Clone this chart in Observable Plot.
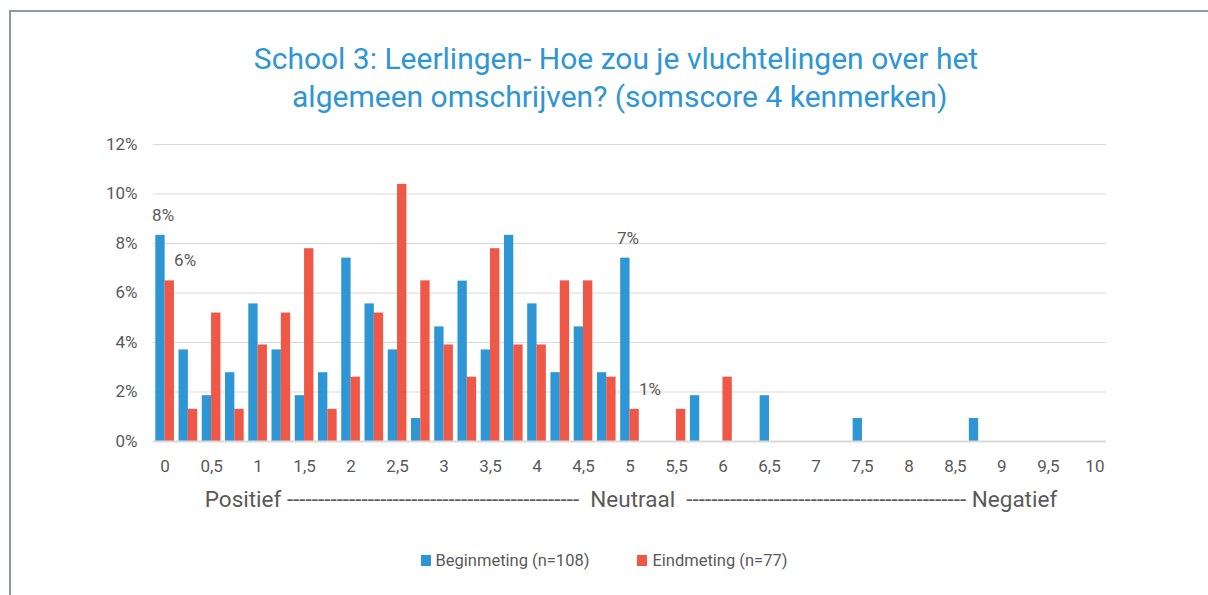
<!DOCTYPE html>
<html>
<head>
<meta charset="utf-8">
<script src="https://cdn.jsdelivr.net/npm/d3@7"></script>
<script src="https://cdn.jsdelivr.net/npm/@observablehq/plot@0.6"></script>
<style>
  html, body { margin: 0; padding: 0; background: #fff; }
  #wrap { position: relative; width: 1208px; height: 595px; overflow: hidden; background: #fff; font-family: Roboto, "Noto Sans", sans-serif; }
  #frame { position: absolute; left: 9px; top: 10px; width: 1400px; height: 800px; border-top: 2px solid #8c9aa8; border-left: 2px solid #8c9aa8; }
  #title { position: absolute; top: 40px; left: 0; width: 1232px; text-align: center; color: #2e96d4; font-size: 30px; line-height: 38px; }
  #chart { position: absolute; top: 130px; left: 0; }
  #axisTitle { position: absolute; top: 486px; left: 0; width: 1262px; text-align: center; color: #595959; font-size: 22.5px; white-space: pre; }
  #legend { position: absolute; top: 551px; left: 0; width: 1208px; display: flex; justify-content: center; gap: 48px; color: #595959; font-size: 16.5px; }
  #legend span.item { display: flex; align-items: center; gap: 5px; }
  #legend span.sw { display: inline-block; width: 10px; height: 11px; }
</style>
</head>
<body>
<div id="wrap">
  <div id="frame"></div>
  <div id="title">School 3: Leerlingen- Hoe zou je vluchtelingen over het<br>&nbsp;algemeen omschrijven? (somscore 4 kenmerken)</div>
  <div id="chart"></div>
  <div id="axisTitle">Positief -----------------------------------------------  Neutraal  --------------------------------------------- Negatief</div>
  <div id="legend"></div>
</div>
<script>
// Somscore categories (x)
const categories = [0, 0.25, 0.5, 0.75, 1, 1.25, 1.5, 1.75, 2, 2.25, 2.5, 2.75, 3, 3.25, 3.5, 3.75, 4, 4.25, 4.5, 4.75, 5, 5.25, 5.5, 5.75, 6, 6.25, 6.5, 6.75, 7, 7.25, 7.5, 7.75, 8, 8.25, 8.5, 8.75, 9, 9.25, 9.5, 9.75, 10];
// Tick labels shown on the x axis
const xTicks = [0, 0.5, 1, 1.5, 2, 2.5, 3, 3.5, 4, 4.5, 5, 5.5, 6, 6.5, 7, 7.5, 8, 8.5, 9, 9.5, 10];
const yTicks = [0, 2, 4, 6, 8, 10, 12];
// Percentages per category
const beginmeting = [8.33, 3.70, 1.85, 2.78, 5.56, 3.70, 1.85, 2.78, 7.41, 5.56, 3.70, 0.93, 4.63, 6.48, 3.70, 8.33, 5.56, 2.78, 4.63, 2.78, 7.41, 0, 0, 1.85, 0, 0, 1.85, 0, 0, 0, 0.93, 0, 0, 0, 0, 0.93, 0, 0, 0, 0, 0];
const eindmeting = [6.49, 1.30, 5.19, 1.30, 3.90, 5.19, 7.79, 1.30, 2.60, 5.19, 10.39, 6.49, 3.90, 2.60, 7.79, 3.90, 3.90, 6.49, 6.49, 2.60, 1.30, 0, 1.30, 0, 2.60, 0, 0, 0, 0, 0, 0, 0, 0, 0, 0, 0, 0, 0, 0, 0, 0];
const seriesNames = ["Beginmeting (n=108)", "Eindmeting (n=77)"];
const seriesColors = ["#2e96d4", "#ef5747"];
// Categories that carry a data label
const labelCategories = [0, 5];

const blueData = categories.map((c, i) => ({cat: c, value: beginmeting[i]})).filter(d => d.value > 0);
const redData = categories.map((c, i) => ({cat: c, value: eindmeting[i]})).filter(d => d.value > 0);
const blueLabels = blueData.filter(d => labelCategories.includes(d.cat));
const redLabels = redData.filter(d => labelCategories.includes(d.cat));
const fmtX = d => String(d).replace(".", ",");
const fmtPct = d => Math.round(d.value) + "%";

const chart = Plot.plot({
  width: 1208,
  height: 390,
  marginLeft: 153,
  marginRight: 102,
  marginTop: 14,
  marginBottom: 79,
  x: {type: "band", domain: categories, padding: 0, round: false},
  y: {domain: [0, 12]},
  style: {fontFamily: "Roboto, 'Noto Sans', sans-serif", color: "#595959", background: "transparent"},
  marks: [
    Plot.gridY(yTicks.filter(t => t > 0), {stroke: "#d9d9d9", strokeOpacity: 1, strokeWidth: 1}),
    Plot.barY(blueData, {x: "cat", y: "value", fill: seriesColors[0], insetLeft: 2.3, insetRight: 11.6}),
    Plot.barY(redData, {x: "cat", y: "value", fill: seriesColors[1], insetLeft: 11.6, insetRight: 2.3}),
    Plot.ruleY([0], {stroke: "#d9d9d9", strokeWidth: 2}),
    Plot.axisY({ticks: yTicks, tickFormat: d => d + "%", tickSize: 0, tickPadding: 16, fontSize: 17, label: null}),
    Plot.axisX({ticks: xTicks, tickFormat: fmtX, tickSize: 0, tickPadding: 18, fontSize: 17, label: null}),
    Plot.text(blueLabels, {x: "cat", y: "value", text: fmtPct, dx: -2, dy: -20, fontSize: 17, fill: "#595959"}),
    Plot.text(redLabels, {x: "cat", y: "value", text: fmtPct, dx: 20, dy: -20, fontSize: 17, fill: "#595959"})
  ]
});
document.getElementById("chart").appendChild(chart);

const legend = document.getElementById("legend");
seriesNames.forEach((name, i) => {
  const item = document.createElement("span");
  item.className = "item";
  const sw = document.createElement("span");
  sw.className = "sw";
  sw.style.background = seriesColors[i];
  const label = document.createElement("span");
  label.textContent = name;
  item.appendChild(sw);
  item.appendChild(label);
  legend.appendChild(item);
});
</script>
</body>
</html>
